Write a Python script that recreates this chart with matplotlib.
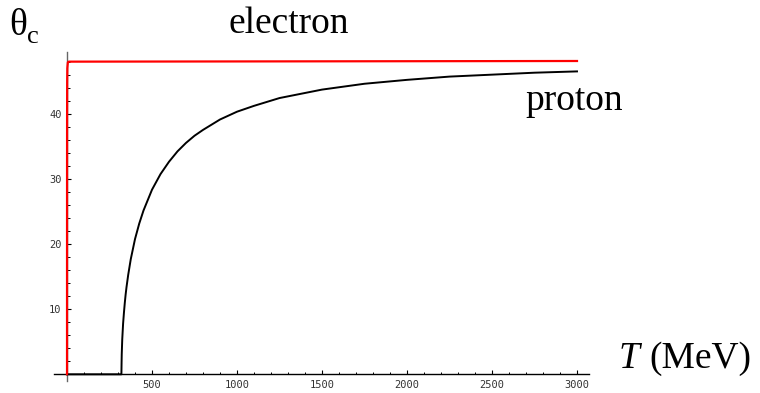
import numpy as np
import matplotlib.pyplot as plt

# Cherenkov angle (degrees) vs kinetic energy T (MeV)
T_electron = [0, 0.17, 0.2, 0.3, 0.5, 1, 2, 5, 10, 3000]
theta_electron = [0, 0, 16.5, 30.9, 39.4, 44.9, 47.1, 48.0, 48.1, 48.2]

T_proton = [0, 320, 321, 322, 325, 330, 335, 340, 345, 350, 360, 375, 400,
            425, 450, 500, 550, 600, 650, 700, 750, 800, 900, 1000, 1100,
            1250, 1500, 1750, 2000, 2250, 2500, 2750, 3000]
theta_proton = [0, 0, 1.7, 3.1, 5.4, 7.8, 9.5, 11.0, 12.3, 13.4, 15.3, 17.7,
                20.8, 23.2, 25.2, 28.4, 30.8, 32.7, 34.3, 35.6, 36.7, 37.6,
                39.2, 40.4, 41.3, 42.5, 43.8, 44.7, 45.3, 45.8, 46.1, 46.4,
                46.6]

x_major = [500, 1000, 1500, 2000, 2500, 3000]
y_major = [10, 20, 30, 40]

W, H = 760, 393
fig = plt.figure(figsize=(W / 100, H / 100), dpi=100)
ax = fig.add_axes([0, 0, 1, 1])
ax.patch.set_alpha(0)

# pixel -> data mapping: x0 at px 67, 0.17 px per MeV; y0 at px 374.3, 6.5 px per degree
x0, sx = 67, 0.17
y0, sy = 374.3, 6.5
ax.set_xlim(-x0 / sx, (W - x0) / sx)
ax.set_ylim((y0 - H) / sy, y0 / sy)

ax.plot(T_proton, theta_proton, color='black', lw=1.4, zorder=3)
ax.plot(T_electron, theta_electron, color='red', lw=1.6, zorder=4)

for s in ['top', 'right']:
    ax.spines[s].set_visible(False)
ax.spines['bottom'].set_position(('data', 0))
ax.spines['left'].set_position(('data', 0))
ax.spines['bottom'].set_bounds(-76, 3071)
ax.spines['left'].set_bounds(-1.0, 49.6)
ax.spines['bottom'].set_color('black')
ax.spines['left'].set_color('#666666')
ax.spines['bottom'].set_linewidth(1.0)
ax.spines['left'].set_linewidth(1.0)

ax.set_xticks(x_major)
ax.set_xticks(np.arange(100, 3001, 100), minor=True)
ax.set_yticks(y_major)
ax.set_yticks(np.arange(2, 49, 2), minor=True)
ax.tick_params(which='both', direction='in', color='black', labelsize=7.5,
               labelcolor='#333333', pad=4)
ax.tick_params(which='major', length=3, width=0.8)
ax.tick_params(which='minor', length=1.8, width=0.7)
for lab in ax.get_xticklabels() + ax.get_yticklabels():
    lab.set_family('DejaVu Sans Mono')

serif = 'Liberation Serif'


def ptext(px, py, s, size, **kw):
    fig.text(px / W, 1 - py / H, s, fontsize=size, family=serif,
             va='baseline', ha='left', **kw)


ptext(9, 35, 'θ', 27)
ptext(27, 43, 'c', 19)
ptext(228, 33, 'electron', 27)
ptext(525, 110, 'proton', 27)
ptext(619, 368, 'T', 27, style='italic')
ptext(649, 368, '(MeV)', 27)

fig.savefig('out.png', dpi=100)
